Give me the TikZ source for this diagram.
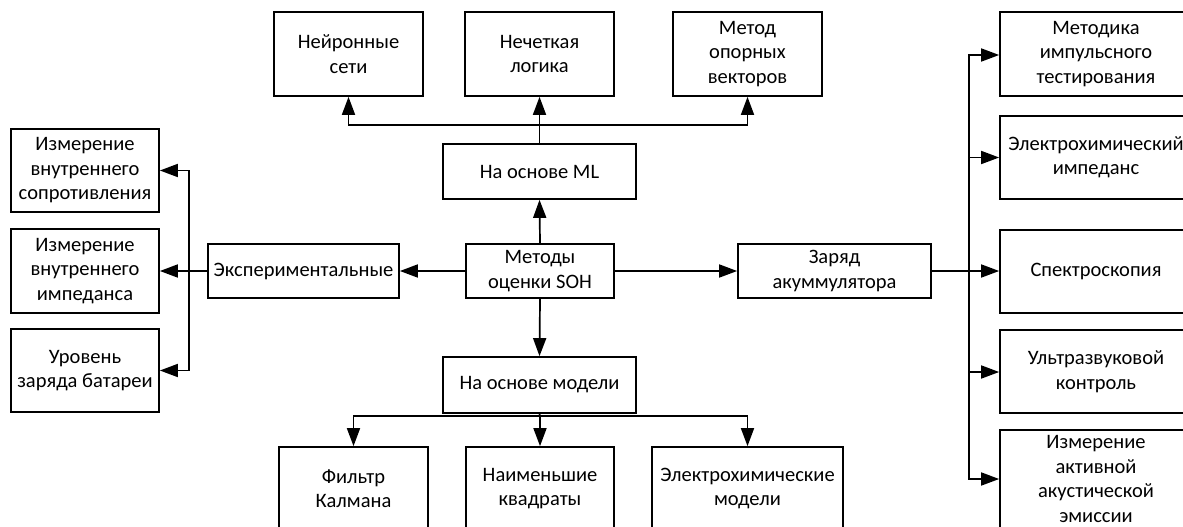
\documentclass[tikz,border=0pt]{standalone}
\usepackage{fontspec}
\setmainfont{Carlito}
\usetikzlibrary{arrows.meta}

\begin{document}
\begin{tikzpicture}[x=1pt,y=-1pt,
  box/.style={draw=black, line width=1.7pt, rectangle, align=center, inner sep=1pt,
    font=\fontsize{20.5}{24.5}\selectfont},
  link/.style={line width=1.7pt},
  arr/.style={link, -{Triangle[length=18pt,width=13pt]}}]
\useasboundingbox (0,0) rectangle (1183,527);
\clip (0,0) rectangle (1183,527);

% centre node
\node[box, minimum width=148pt, minimum height=54pt] (soh) at (540,271) {Методы\\оценки SOH};

% machine-learning branch
\node[box, minimum width=193pt, minimum height=55pt] (ml) at (539.5,171.5) {На основе ML};
\node[box, minimum width=149pt, minimum height=84pt] (nn) at (348.5,54) {Нейронные\\сети};
\node[box, minimum width=149pt, minimum height=84pt] (fz) at (539.5,54) {Нечеткая\\логика};
\node[box, minimum width=149pt, minimum height=84pt] (sv) at (747.5,54) {Метод\\опорных\\векторов};

% model-based branch
\node[box, minimum width=193pt, minimum height=56pt] (md) at (539.5,385) {На основе модели};
\node[box, minimum width=149pt, minimum height=83pt] (kf) at (353.5,488.5) {Фильтр\\Калмана};
\node[box, minimum width=148pt, minimum height=83pt] (ls) at (540,488.5) {Наименьшие\\квадраты};
\node[box, minimum width=191pt, minimum height=83pt] (em) at (747.5,488.5) {Электрохимические\\модели};

% experimental branch
\node[box, minimum width=191pt, minimum height=54pt] (ex) at (303.5,271) {Экспериментальные};
\node[box, minimum width=148pt, minimum height=83pt] (l1) at (85,170.5) {Измерение\\внутреннего\\сопротивления};
\node[box, minimum width=148pt, minimum height=84pt] (l2) at (85,271) {Измерение\\внутреннего\\импеданса};
\node[box, minimum width=148pt, minimum height=83pt] (l3) at (85,370.5) {Уровень\\заряда батареи};

% charge branch
\node[box, minimum width=193pt, minimum height=54pt] (ch) at (834.5,271) {Заряд\\акуммулятора};
\node[box, minimum width=192pt, minimum height=84pt] (r1) at (1096,54) {Методика\\импульсного\\тестирования};
\node[box, minimum width=192pt, minimum height=83pt] (r2) at (1096,157.5) {Электрохимический\\импеданс};
\node[box, minimum width=192pt, minimum height=83pt] (r3) at (1096,271.5) {Спектроскопия};
\node[box, minimum width=192pt, minimum height=83pt] (r4) at (1096,371.5) {Ультразвуковой\\контроль};
\node[box, minimum width=192pt, minimum height=98pt] (r5) at (1096,479) {Измерение\\активной\\акустической\\эмиссии};

% bus junctions
\coordinate (tbus) at (540,125);
\coordinate (bbus) at (540,416);
\coordinate (lbus) at (189,271);
\coordinate (rbus) at (969,271);

% connectors from the centre
\draw[arr] (soh.north) -- (ml.south);
\draw[arr] (soh.south) -- (md.south |- md.north);
\draw[arr] (soh.west) -- (ex.east);
\draw[arr] (soh.east) -- (ch.west);

% machine-learning fan-out
\draw[arr] (ml.north) -- (fz.south);
\draw[arr] (tbus) -| (nn.south);
\draw[arr] (tbus) -| (sv.south);

% model-based fan-out
\draw[link] (md.south) -- (bbus);
\draw[arr] (bbus) -| (kf.north);
\draw[arr] (bbus) -- (ls.north);
\draw[arr] (bbus) -| (em.north);

% experimental fan-out
\draw[link] (ex.west) -- (lbus);
\draw[arr] (lbus) |- (l1.east);
\draw[arr] (lbus) -- (l2.east);
\draw[arr] (lbus) |- (l3.east);

% charge fan-out
\draw[line width=2.8pt] (ch.east) -- (rbus);
\draw[arr] (rbus) |- ([yshift=-1pt]r1.west);
\draw[arr] (rbus) |- (r2.west);
\draw[arr] (rbus) -- (r3.west |- rbus);
\draw[arr] (rbus) |- ([yshift=-0.5pt]r4.west);
\draw[arr] (rbus) |- (r5.west);
\end{tikzpicture}
\end{document}
